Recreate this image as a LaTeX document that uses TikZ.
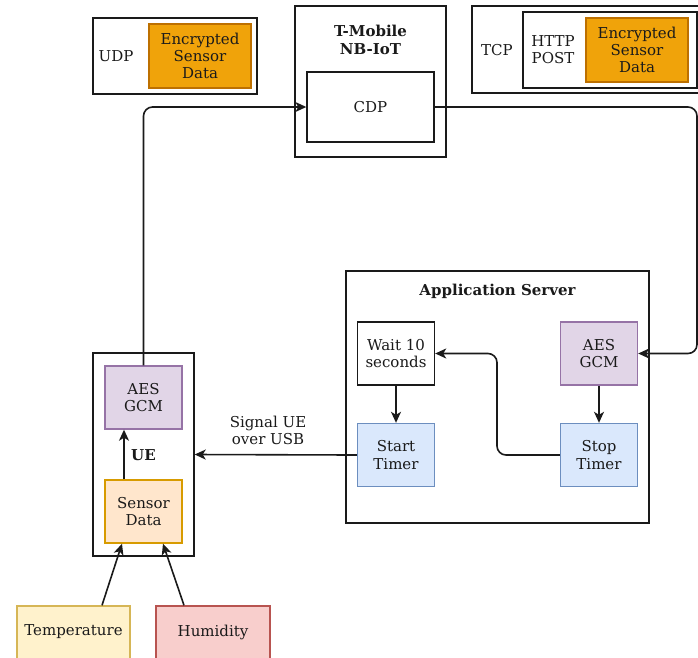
\documentclass[tikz,border=0pt]{standalone}
\usepackage{fontspec}
\setmainfont{DejaVu Serif}
\usetikzlibrary{arrows.meta}
\definecolor{orfill}{HTML}{F0A30A}
\definecolor{ordraw}{HTML}{BD7000}
\definecolor{pufill}{HTML}{E1D5E7}
\definecolor{pudraw}{HTML}{9673A6}
\definecolor{blfill}{HTML}{DAE8FC}
\definecolor{bldraw}{HTML}{6C8EBF}
\definecolor{sdfill}{HTML}{FFE6CC}
\definecolor{sddraw}{HTML}{D79B00}
\definecolor{tefill}{HTML}{FFF2CC}
\definecolor{tedraw}{HTML}{D6B656}
\definecolor{hufill}{HTML}{F8CECC}
\definecolor{hudraw}{HTML}{B85450}
\definecolor{ink}{HTML}{1A1A1A}
\tikzset{
  every node/.style={font=\fontsize{15}{17.2}\selectfont, text=ink, align=center, inner sep=0pt},
  bf/.style={font=\fontsize{15}{17.2}\selectfont\bfseries},
  box/.style={draw=ink, line width=1.4pt, rectangle},
  blk/.style={box, minimum width=77pt, minimum height=63pt},
  arr/.style={draw=ink, line width=1.6pt, -{Stealth[length=11pt,width=10pt,inset=3pt]}},
}
\begin{document}
\begin{tikzpicture}[x=1pt,y=-1pt]
\useasboundingbox (0,0) rectangle (698,657);
\clip (0,0) rectangle (698,657);
% UDP
\node[box, minimum width=164pt, minimum height=76pt] (udpbox) at (175,56) {};
\node (udplbl) at (116,56) {UDP};
\node[box, draw=ordraw, fill=orfill, minimum width=102pt, minimum height=64pt] (udpenc) at (200,56) {Encrypted\\Sensor\\Data};
% T-Mobile
\node[box, minimum width=151pt, minimum height=151pt] (tmob) at (370.5,81.5) {};
\node[bf] (tmobt) at (370.5,40) {T-Mobile\\NB-IoT};
\node[box, minimum width=127pt, minimum height=70pt] (cdp) at (370.5,107) {CDP};
% TCP
\node[box, minimum width=240pt, minimum height=87pt] (tcpbox) at (592,49.5) {};
\node (tcplbl) at (497,50) {TCP};
\node[box, minimum width=174pt, minimum height=76pt] (httpbox) at (610,50) {};
\node (httplbl) at (553,50) {HTTP\\POST};
\node[box, draw=ordraw, fill=orfill, minimum width=102pt, minimum height=64pt] (tcpenc) at (637,50) {Encrypted\\Sensor\\Data};
% Application server
\node[box, minimum width=303pt, minimum height=252pt] (app) at (497.5,397) {};
\node[bf] (appt) at (497.5,291) {Application Server};
\node[blk] (wait) at (396,353.5) {Wait 10\\seconds};
\node[blk, draw=pudraw, fill=pufill] (aes2) at (599,353.5) {AES\\GCM};
\node[blk, draw=bldraw, fill=blfill] (start) at (396,455) {Start\\Timer};
\node[blk, draw=bldraw, fill=blfill] (stop) at (599,455) {Stop\\Timer};
% UE
\node[box, minimum width=101pt, minimum height=203pt] (ue) at (143.5,454.5) {};
\node[bf] (uet) at (143.5,455) {UE};
\node[blk, draw=pudraw, fill=pufill] (aes1) at (143.5,397.5) {AES\\GCM};
\node[blk, draw=sddraw, fill=sdfill] (sensor) at (143.5,511.5) {Sensor\\Data};
% sensors
\node[box, draw=tedraw, fill=tefill, minimum width=113pt, minimum height=56pt] (temp) at (73.5,634) {};
\node (templ) at (73.5,632) {Temperature};
\node[box, draw=hudraw, fill=hufill, minimum width=114pt, minimum height=56pt] (hum) at (213,634) {};
\node (huml) at (213,632) {Humidity};
% helper coordinates
\coordinate (rx) at (697,0);
\coordinate (mx) at (497,0);
% connectors
\draw[arr, rounded corners=9pt] (aes1.north) |- (cdp.west);
\draw[arr, rounded corners=9pt] (cdp.east) -- (cdp.east -| rx) |- (aes2.east);
\draw[arr] (wait.south) -- (start.north);
\draw[arr] (aes2.south) -- (stop.north);
\draw[arr, rounded corners=9pt] (stop.west) -- (stop.west -| mx) |- (wait.east);
\draw[arr] (start.west) -- (ue.east);
\node (sig) at (268,430) {Signal UE\\over USB};
\draw[arr] ([xshift=-19.5pt]sensor.north) -- ([xshift=-19.5pt]aes1.south);
\draw[arr] ([xshift=28.5pt]temp.north) -- ([xshift=-21.5pt]sensor.south);
\draw[arr] ([xshift=-29pt]hum.north) -- ([xshift=19.5pt]sensor.south);
\end{tikzpicture}
\end{document}
